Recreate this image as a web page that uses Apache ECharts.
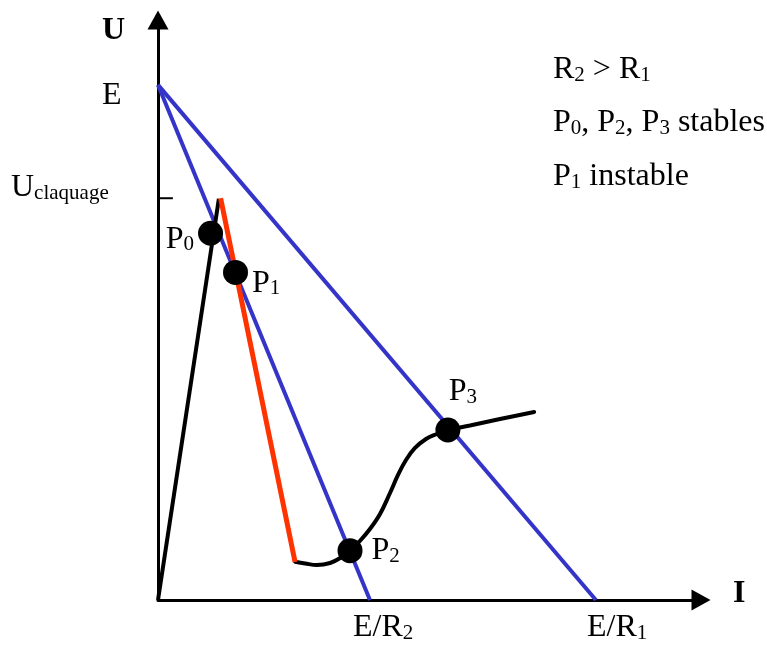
<!DOCTYPE html>
<html>
<head>
<meta charset="utf-8">
<script src="https://cdn.jsdelivr.net/npm/echarts@6/dist/echarts.min.js"></script>
<style>
html, body { margin: 0; padding: 0; background: #fff; }
#chart { width: 767px; height: 646px; }
</style>
</head>
<body>
<div id="chart"></div>
<script>
// Normalised units: supply voltage E = 100, short-circuit current E/R1 = 100
const E = 100;
const I_R1 = 100;        // E/R1
const I_R2 = 48.4;       // E/R2
const U_CLAQ = 78;       // breakdown voltage
const U_MAX = 112.6;
const I_MAX = 124;

// Load lines of the two resistors
const loadR1 = [[0, E], [I_R1, 0]];
const loadR2 = [[0, E], [I_R2, 0]];

// Discharge characteristic U(I)
const riseBranch = [[0, 0], [13.9, 77.9]];
const negBranch = [[14.3, 78.0], [31.3, 7.4]];
const arcBranch = [
  [31.3, 7.44], [33.6, 7.09], [36.3, 6.79], [39.3, 7.18], [41.6, 8.15],
  [43.85, 9.57], [46.1, 11.45], [48.4, 13.78], [50.7, 16.7], [52.98, 20.77],
  [54.81, 24.27], [56.63, 27.18], [58.69, 29.51], [61.2, 31.26], [63.71, 32.23],
  [66.2, 33.0], [71.25, 33.88], [78.1, 35.14], [85.9, 36.5]
];
const breakdownTick = [[-0.7, U_CLAQ], [3.4, U_CLAQ]];

// Operating points
const pointNames = ['P0', 'P1', 'P2', 'P3'];
const pointI = [12.0, 17.7, 43.85, 66.2];
const pointU = [71.2, 63.6, 9.57, 33.0];

const FONT = '"Liberation Serif", "Times New Roman", serif';
const MAIN = 32, SUB = 21;
const rich = {
  m: { fontFamily: FONT, fontSize: MAIN, color: '#000', verticalAlign: 'bottom', lineHeight: MAIN },
  s: { fontFamily: FONT, fontSize: SUB, color: '#000', verticalAlign: 'bottom', lineHeight: 15 },
  b: { fontFamily: FONT, fontSize: MAIN, fontWeight: 'bold', color: '#000', verticalAlign: 'bottom', lineHeight: MAIN }
};
// "P", "0" -> "{m|P}{s|0}"
function sub(base, idx) { return '{m|' + base + '}{s|' + idx + '}'; }

const labelPlacement = [
  { position: 'left', distance: 4, offset: [0, 6] },
  { position: 'right', distance: 4, offset: [0, 11] },
  { position: 'right', distance: 9, offset: [0, 0] },
  { position: 'top', distance: 10, offset: [15, 0] }
];

const chart = echarts.init(document.getElementById('chart'), null, { renderer: 'canvas' });

const hiddenAxis = {
  axisTick: { show: false },
  axisLabel: { show: false },
  splitLine: { show: false },
  axisLine: {
    show: true,
    onZero: true,
    symbol: ['none', 'triangle'],
    symbolSize: [21, 19],
    lineStyle: { color: '#000', width: 3 }
  }
};

const BLUE = '#3434c8';
const RED = '#ff3300';

chart.setOption({
  animation: false,
  backgroundColor: '#fff',
  grid: { left: 158, right: 66, top: 20, bottom: 46 },
  xAxis: Object.assign({ type: 'value', min: 0, max: I_MAX }, hiddenAxis),
  yAxis: Object.assign({ type: 'value', min: 0, max: U_MAX }, hiddenAxis),
  series: [
    { type: 'line', data: loadR1, symbol: 'none', lineStyle: { color: BLUE, width: 4 }, z: 2 },
    { type: 'line', data: loadR2, symbol: 'none', lineStyle: { color: BLUE, width: 4 }, z: 2 },
    { type: 'line', data: riseBranch, symbol: 'none', lineStyle: { color: '#000', width: 4 }, z: 3 },
    { type: 'line', data: arcBranch, symbol: 'none', smooth: 0.4, lineStyle: { color: '#000', width: 4, cap: 'round' }, z: 3 },
    { type: 'line', data: negBranch, symbol: 'none', lineStyle: { color: RED, width: 5 }, z: 4 },
    { type: 'line', data: breakdownTick, symbol: 'none', clip: false, lineStyle: { color: '#000', width: 2 }, z: 4 },
    {
      type: 'scatter',
      symbolSize: 25,
      itemStyle: { color: '#000', opacity: 1 },
      z: 5,
      data: pointNames.map(function (n, i) {
        return {
          name: n,
          value: [pointI[i], pointU[i]],
          label: Object.assign({
            show: true,
            color: '#000',
            formatter: sub('P', n.slice(1)),
            rich: rich
          }, labelPlacement[i])
        };
      })
    }
  ],
  graphic: [
    { type: 'text', left: 102, top: 15, style: { text: '{b|U}', rich: rich } },
    { type: 'text', left: 102, top: 80, style: { text: '{m|E}', rich: rich } },
    { type: 'text', left: 11, top: 172, style: { text: '{m|U}{s|claquage}', rich: rich } },
    { type: 'text', left: 733, top: 578, style: { text: '{b|I}', rich: rich } },
    { type: 'text', left: 353, top: 612, style: { text: '{m|E/R}{s|2}', rich: rich } },
    { type: 'text', left: 587, top: 612, style: { text: '{m|E/R}{s|1}', rich: rich } },
    { type: 'text', left: 553, top: 54, style: { text: sub('R', 2) + '{m| > R}{s|1}', rich: rich } },
    { type: 'text', left: 553, top: 107, style: { text: sub('P', 0) + '{m|, P}{s|2}{m|, P}{s|3}{m| stables}', rich: rich } },
    { type: 'text', left: 553, top: 161, style: { text: sub('P', 1) + '{m| instable}', rich: rich } }
  ]
});
</script>
</body>
</html>
